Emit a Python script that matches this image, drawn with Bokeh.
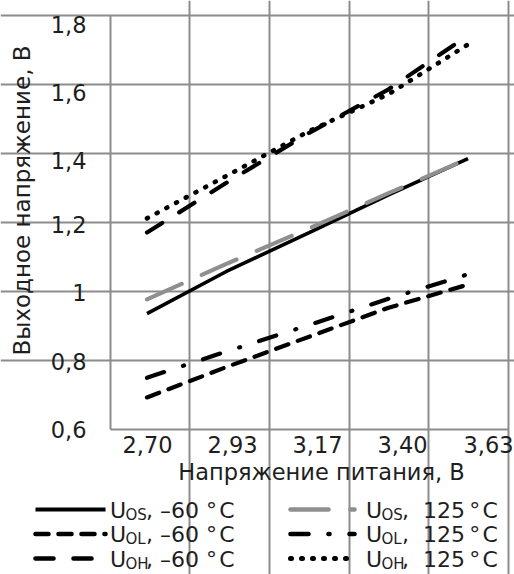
import math
from bokeh.plotting import figure
from bokeh.models import Range1d, FixedTicker
from bokeh.embed import file_html
from bokeh.resources import INLINE
from bokeh.core.properties import value

# ---------------- data ----------------
supply_v = [2.70, 2.93, 3.17, 3.40, 3.63]
x_tick_labels = ["2,70", "2,93", "3,17", "3,40", "3,63"]
y_grid_values = [0.8, 1.0, 1.2, 1.4, 1.6, 1.8]
y_tick_labels = ["0,6", "0,8", "1", "1,2", "1,4", "1,6", "1,8"]

uos_m60 = [0.936, 1.058, 1.171, 1.280, 1.385]
uos_125 = [0.977, 1.080, 1.183, 1.285, 1.385]
uol_m60 = [0.693, 0.781, 0.869, 0.953, 1.020]
uol_125 = [0.750, 0.826, 0.903, 0.979, 1.050]
uoh_m60 = [1.171, 1.315, 1.460, 1.586, 1.742]
uoh_125 = [1.212, 1.335, 1.465, 1.572, 1.716]

subs = ["OS", "OL", "OH"]
temps = [", \u201360 °\u200aC", ", \u00a0125\u2009°\u200aC"]

x_title = "Напряжение питания, В"
y_title = "Выходное напряжение, В"

# ---------------- layout / style constants ----------------
FONT = "DejaVu Sans"
TXT = "#1e1e1e"
GRID = "#8c8c8c"
W, H = 514, 574
# pixel <-> data mapping of the plot box (box: x 110..508 px, y 15..429 px)
X0 = 2.5943
SXP = 0.0028972          # data units per px (x)
Y_TOP = 1.8
SYP = 1.0 / 345.0        # data units per px (y)


def px(x_px):
    return X0 + (x_px - 110) * SXP


def py(y_px):
    return Y_TOP - (y_px - 15) * SYP


X_BOX = (px(110), px(508))
Y_BOX = (0.6, 1.8)
x_grid_pos = [px(189), px(269), px(349), px(428), px(508)]
x_label_pos = [px(147), px(232), px(317), px(402), px(488)]
y_label_pos = [0.6, 0.797, 0.996, 1.194, 1.380, 1.577, 1.774]

series = [
    # data, color, dash, width, legend row, legend col
    (uos_m60, "#000000", "solid", 3.6, 0, 0),
    (uol_m60, "#000000", "13 10", 4.2, 1, 0),
    (uoh_m60, "#000000", "18 20", 4.2, 2, 0),
    (uos_125, "#8f8f8f", "38 22", 4.2, 0, 1),
    (uol_125, "#000000", "18 20 1 20", 4.2, 1, 1),
    (uoh_125, "#000000", "1 10", 4.6, 2, 1),
]

p = figure(width=W, height=H, output_backend="svg", toolbar_location=None,
           x_range=Range1d(px(0), px(W)), y_range=Range1d(py(H), py(0)),
           min_border=0)
p.background_fill_color = "white"
p.border_fill_color = "white"
p.outline_line_color = None

# grid (limited to the plot box; last lines form the top/right border)
p.xgrid.ticker = FixedTicker(ticks=x_grid_pos)
p.ygrid.ticker = FixedTicker(ticks=y_grid_values)
p.xgrid.bounds = Y_BOX
p.ygrid.bounds = X_BOX
for g in (p.xgrid, p.ygrid):
    g.grid_line_color = GRID
    g.grid_line_width = 2

# axes pinned to the box edges
p.xaxis.fixed_location = Y_BOX[0]
p.yaxis.fixed_location = X_BOX[0]
p.xaxis.bounds = X_BOX
p.yaxis.bounds = Y_BOX
p.xaxis.ticker = FixedTicker(ticks=x_label_pos)
p.xaxis.major_label_overrides = {x_label_pos[i]: x_tick_labels[i] for i in range(len(x_tick_labels))}
p.yaxis.ticker = FixedTicker(ticks=y_label_pos)
p.yaxis.major_label_overrides = {y_label_pos[i]: y_tick_labels[i] for i in range(len(y_tick_labels))}
for ax in (p.xaxis, p.yaxis):
    ax.axis_line_color = GRID
    ax.axis_line_width = 2
    ax.major_tick_line_color = None
    ax.minor_tick_line_color = None
    ax.major_tick_in = 0
    ax.major_tick_out = 0
    ax.major_label_text_font = FONT
    ax.major_label_text_font_size = "22.5px"
    ax.major_label_text_color = TXT
p.xaxis.major_label_standoff = 6
p.yaxis.major_label_standoff = 24

# data lines
for data, color, dash, lw, row, col in series:
    p.line(supply_v, data, line_color=color, line_width=lw, line_dash=dash,
           line_cap="round" if dash != "solid" else "butt")

# axis titles
p.text([px(21)], [py(200)], text=[y_title], angle=math.pi / 2,
       text_align="center", text_baseline="middle",
       text_font=value(FONT), text_font_size="23px", text_color=TXT)
p.text([px(321)], [py(471)], text=[x_title],
       text_align="center", text_baseline="middle",
       text_font=value(FONT), text_font_size="22.5px", text_color=TXT)

# legend (drawn manually for subscripts)
row_text_y = [509.5, 534, 558.5]
row_line_y = [509, 533.5, 558]
col_line = [(35, 105), (290, 354)]
col_text = [109.5, 365.5]
for data, color, dash, lw, row, col in series:
    x0, x1 = col_line[col]
    ly = py(row_line_y[row])
    p.line([px(x0), px(x1)], [ly, ly], line_color=color, line_width=lw + 0.4, line_dash=dash,
           line_cap="round" if dash != "solid" else "butt")
    tx = col_text[col]
    ty = row_text_y[row]
    p.text([px(tx)], [py(ty)], text=["U"], text_font=value(FONT), text_font_size="22px",
           text_color=TXT, text_baseline="middle", text_align="left")
    p.text([px(tx + 15.5)], [py(ty + 4.5)], text=[subs[row]], text_font=value(FONT),
           text_font_size="15px", text_color=TXT, text_baseline="middle", text_align="left")
    p.text([px(tx + 36)], [py(ty)], text=[temps[col]],
           text_font=value(FONT), text_font_size="22px",
           text_color=TXT, text_baseline="middle", text_align="left")

open("out.html", "w").write(file_html(p, INLINE))
